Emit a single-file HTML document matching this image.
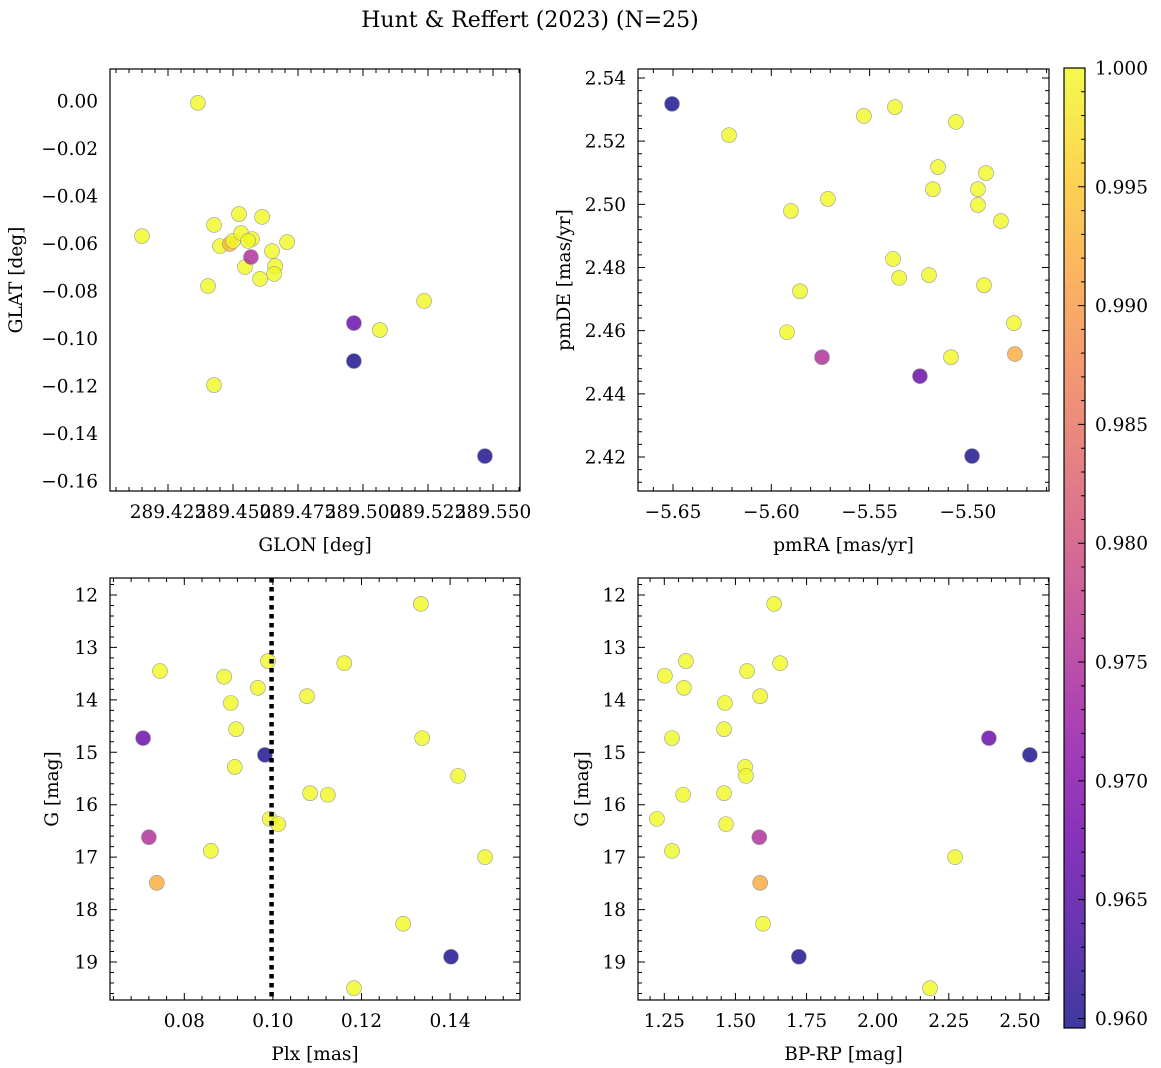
<!DOCTYPE html>
<html><head><meta charset="utf-8"><style>
body{margin:0;background:#fff}
svg{display:block;font-family:"DejaVu Serif","Liberation Serif",serif}
</style></head><body>
<svg id="fig" width="1161" height="1068" viewBox="0 0 1161 1068" xmlns="http://www.w3.org/2000/svg">
<defs><linearGradient id="plasma" x1="0" y1="1" x2="0" y2="0">
<stop offset="0" stop-color="#0d0887"/><stop offset="0.1" stop-color="#41049d"/><stop offset="0.2" stop-color="#6a00a8"/><stop offset="0.3" stop-color="#8f0da4"/><stop offset="0.4" stop-color="#b12a90"/><stop offset="0.5" stop-color="#cc4778"/><stop offset="0.6" stop-color="#e16462"/><stop offset="0.7" stop-color="#f2844b"/><stop offset="0.8" stop-color="#fca636"/><stop offset="0.9" stop-color="#fcce25"/><stop offset="1" stop-color="#f0f921"/>
</linearGradient></defs>
<text x="530" y="27" text-anchor="middle" font-size="22">Hunt &amp; Reffert (2023) (N=25)</text>
</svg>
<script>
// ---- data ----
const glon=[289.4365,289.4150,289.4427,289.4523,289.4612,289.4450,289.4488,289.4500,289.4531,289.4573,289.4558,289.4708,289.4650,289.4546,289.4569,289.4662,289.4658,289.4604,289.4404,289.4427,289.4965,289.5065,289.5235,289.4965,289.5469];
const glat=[-0.0008,-0.0569,-0.0522,-0.0476,-0.0488,-0.0611,-0.0602,-0.0589,-0.0556,-0.0581,-0.0589,-0.0594,-0.0632,-0.0699,-0.0657,-0.0695,-0.0728,-0.0749,-0.0779,-0.1196,-0.0935,-0.0964,-0.0842,-0.1095,-0.1495];
const probA=[1,1,1,1,1,1,0.993,1,1,1,1,1,1,1,0.975,1,1,1,1,1,0.967,1,1,0.960,0.960];
const pmra=[-5.6505,-5.6215,-5.5529,-5.5371,-5.5061,-5.5152,-5.4908,-5.5178,-5.4949,-5.4949,-5.4832,-5.5900,-5.5712,-5.5381,-5.5350,-5.5198,-5.5854,-5.4918,-5.4766,-5.5920,-5.5742,-5.5086,-5.4761,-5.5244,-5.4979];
const pmde=[2.5318,2.5219,2.5280,2.5308,2.5261,2.5118,2.5099,2.5048,2.5048,2.4998,2.4947,2.4979,2.5017,2.4827,2.4767,2.4776,2.4725,2.4744,2.4624,2.4595,2.4516,2.4516,2.4526,2.4456,2.4203];
const probB=[0.960,1,1,1,1,1,1,1,1,1,1,1,1,1,1,1,1,1,1,1,0.975,1,0.992,0.967,0.960];
const plx=[0.1334,0.0745,0.0890,0.0989,0.1161,0.0966,0.1077,0.0905,0.0917,0.0707,0.1337,0.0982,0.0914,0.1418,0.1084,0.1124,0.0993,0.1012,0.0720,0.0860,0.1479,0.0738,0.1294,0.1402,0.1183];
const gmagC=[12.17,13.45,13.56,13.26,13.30,13.77,13.93,14.06,14.56,14.73,14.73,15.05,15.28,15.45,15.78,15.81,16.27,16.37,16.62,16.88,17.00,17.49,18.27,18.90,19.50];
const probC=[1,1,1,1,1,1,1,1,1,0.967,1,0.960,1,1,1,1,1,1,0.975,1,1,0.992,1,0.960,1];
const bprp=[1.636,1.252,1.326,1.541,1.657,1.319,1.587,1.463,1.277,1.460,2.391,2.535,1.534,1.537,1.316,1.460,1.224,1.467,1.584,1.277,2.272,1.587,1.597,1.723,2.184];
const gmagD=[12.17,13.54,13.26,13.45,13.30,13.77,13.93,14.06,14.73,14.56,14.73,15.05,15.28,15.45,15.81,15.78,16.27,16.37,16.62,16.88,17.00,17.49,18.27,18.90,19.50];
const probD=[1,1,1,1,1,1,1,1,1,1,0.967,0.960,1,1,1,1,1,1,0.975,1,1,0.992,1,0.960,1];
const ticksA_x=[289.425,289.450,289.475,289.500,289.525,289.550];
const ticksA_y=[0,-0.02,-0.04,-0.06,-0.08,-0.10,-0.12,-0.14,-0.16];
const ticksB_x=[-5.65,-5.60,-5.55,-5.50];
const ticksB_y=[2.42,2.44,2.46,2.48,2.50,2.52,2.54];
const ticksC_x=[0.08,0.10,0.12,0.14];
const ticksG=[12,13,14,15,16,17,18,19];
const ticksD_x=[1.25,1.50,1.75,2.00,2.25,2.50];
const cbTicks=[0.960,0.965,0.970,0.975,0.980,0.985,0.990,0.995,1.000];
const plxLine=0.0997;
const vmin=0.9596,vmax=1.0;

const NS="http://www.w3.org/2000/svg";
const svg=document.getElementById('fig');
function mk(tag,attrs,parent){const e=document.createElementNS(NS,tag);for(const k in attrs)e.setAttribute(k,attrs[k]);(parent||svg).appendChild(e);return e;}
const stops=[[0,13,8,135],[0.1,65,4,157],[0.2,106,0,168],[0.3,143,13,164],[0.4,177,42,144],[0.5,204,71,120],[0.6,225,100,98],[0.7,242,132,75],[0.8,252,166,54],[0.9,252,206,37],[1,240,249,33]];
function cmap(v){let t=(v-vmin)/(vmax-vmin);t=Math.max(0,Math.min(1,t));for(let i=1;i<stops.length;i++){if(t<=stops[i][0]){const a=stops[i-1],b=stops[i],f=(t-a[0])/(b[0]-a[0]);return `rgb(${[1,2,3].map(j=>Math.round(a[j]+f*(b[j]-a[j]))).join(',')})`;}}return 'rgb(240,249,33)';}
const FS=18.5;
function panel(o){
  const g=mk('g',{});
  
  
  const sx=v=>o.x0+(v-o.xmin)/(o.xmax-o.xmin)*(o.x1-o.x0);
  const sy=v=>o.y1-(v-o.ymin)/(o.ymax-o.ymin)*(o.y1-o.y0);
  for(let i=0;i<o.xs.length;i++){
    const c=mk('circle',{cx:sx(o.xs[i]),cy:sy(o.ys[i]),r:7.5,fill:cmap(o.p[i]),'fill-opacity':0.8,stroke:'#999','stroke-width':0.6},g);
    
    
  }
  if(o.vline!==undefined){
    const l=mk('line',{x1:sx(o.vline),x2:sx(o.vline),y1:o.y0,y2:o.y1,stroke:'#000','stroke-width':4.5,'stroke-dasharray':'4.5 4.5'},g);
    
    
  }
  const tk=[];
  const xs=o.xt, ys=o.yt;
  const xstep=(xs[1]-xs[0])/5, ystep=(ys[1]-ys[0])/5;
  for(let v=xs[0]-5*xstep;v<=o.xmax+1e-9;v+=xstep){if(v<o.xmin-1e-9)continue;const X=sx(v);const isM=xs.some(t=>Math.abs(t-v)<xstep/10);const L=isM?7:4;tk.push(`M${X},${o.y1}v${-L}M${X},${o.y0}v${L}`);}
  for(let v=ys[0]-5*ystep;v<=o.ymax+1e-9;v+=ystep){if(v<o.ymin-1e-9)continue;const Y=sy(v);const isM=ys.some(t=>Math.abs(t-v)<ystep/10);const L=isM?7:4;tk.push(`M${o.x0},${Y}h${L}M${o.x1},${Y}h${-L}`);}
  mk('path',{d:tk.join(''),stroke:'#000','stroke-width':1,fill:'none'},g);
  mk('rect',{x:o.x0,y:o.y0,width:o.x1-o.x0,height:o.y1-o.y0,fill:'none',stroke:'#000','stroke-width':1.2},g);
  xs.forEach(v=>{const t=mk('text',{x:sx(v),y:o.y1+27,'text-anchor':'middle','font-size':FS},g);t.textContent=o.xf(v);});
  ys.forEach(v=>{const t=mk('text',{x:o.x0-12,y:sy(v)+6.5,'text-anchor':'end','font-size':FS},g);t.textContent=o.yf(v);});
  const xt=mk('text',{x:(o.x0+o.x1)/2,y:o.y1+60,'text-anchor':'middle','font-size':FS},g);xt.textContent=o.xl;
  
  const yx=o.ylx, yc=(o.y0+o.y1)/2;
  const yt=mk('text',{x:yx,y:yc,'text-anchor':'middle','font-size':FS,transform:`rotate(-90 ${yx} ${yc})`},g);yt.textContent=o.yl;
  
}
const neg=s=>s.replace('-','\u2212');
panel({name:'glon-glat-panel',x0:110,x1:520,y0:69,y1:491,xmin:289.425-58/65*0.025,xmax:289.425+352/65*0.025,ymin:-(491-101)/47.5*0.02,ymax:(101-69)/47.5*0.02,
 xs:glon,ys:glat,p:probA,xt:ticksA_x,yt:ticksA_y,xf:v=>v.toFixed(3),yf:v=>neg(Math.abs(v)<1e-9?'0.00':v.toFixed(2)),xl:'GLON [deg]',yl:'GLAT [deg]',ylx:22});
panel({name:'pm-panel',x0:638,x1:1049,y0:69,y1:491,xmin:-5.65-35/98.3*0.05,xmax:-5.65+376/98.3*0.05,ymin:2.42-(491-457)/31.58*0.01,ymax:2.54+(78-69)/31.58*0.01,
 xs:pmra,ys:pmde,p:probB,xt:ticksB_x,yt:ticksB_y,xf:v=>neg(v.toFixed(2)),yf:v=>v.toFixed(2),xl:'pmRA [mas/yr]',yl:'pmDE [mas/yr]',ylx:570});
const gTop=12-(595-578)/52.43, gBot=12+(1000-595)/52.43;
panel({name:'plx-g-panel',x0:110,x1:520,y0:578,y1:1000,xmin:0.08-74.3/88.6*0.02,xmax:0.08+335.7/88.6*0.02,ymin:-gBot,ymax:-gTop,
 xs:plx,ys:gmagC.map(v=>-v),p:probC,xt:ticksC_x,yt:ticksG.map(v=>-v).reverse(),xf:v=>v.toFixed(2),yf:v=>String(-v),xl:'Plx [mas]',yl:'G [mag]',ylx:58,vline:plxLine});
panel({name:'color-g-panel',x0:638,x1:1049,y0:578,y1:1000,xmin:1.25-26.3/284.5,xmax:1.25+384.7/284.5,ymin:-gBot,ymax:-gTop,
 xs:bprp,ys:gmagD.map(v=>-v),p:probD,xt:ticksD_x,yt:ticksG.map(v=>-v).reverse(),xf:v=>v.toFixed(2),yf:v=>String(-v),xl:'BP-RP [mag]',yl:'G [mag]',ylx:588});
const cb=mk('g',{});


const cx0=1064,cx1=1085,cy0=68,cy1=1028;
mk('rect',{x:cx0,y:cy0,width:cx1-cx0,height:cy1-cy0,fill:'url(#plasma)','fill-opacity':0.8},cb);
const cys=v=>cy1-(v-vmin)/(vmax-vmin)*(cy1-cy0);
let d='';
for(let v=0.960;v<=1.00001;v+=0.001){const isM=Math.abs(Math.round(v*200)-v*200)<0.01;d+=`M${cx1},${cys(v)}h${isM?-7:-4}`;}
mk('path',{d:d,stroke:'#000','stroke-width':1},cb);
mk('rect',{x:cx0,y:cy0,width:cx1-cx0,height:cy1-cy0,fill:'none',stroke:'#000','stroke-width':1.2},cb);
cbTicks.forEach(v=>{const t=mk('text',{x:cx1+10,y:cys(v)+6.5,'font-size':FS},cb);t.textContent=v.toFixed(3);});
</script>
</body></html>
